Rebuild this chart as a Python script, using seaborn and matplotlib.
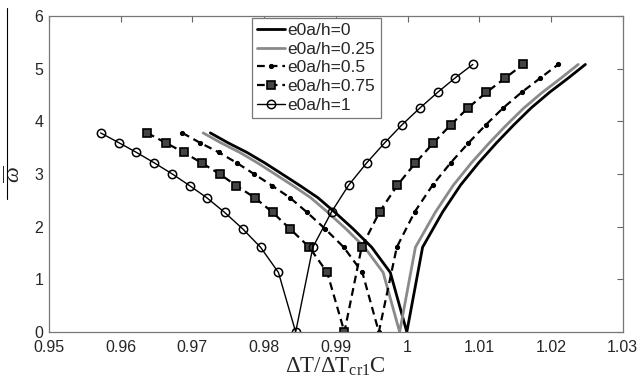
import numpy as np
import pandas as pd
import matplotlib
matplotlib.use("Agg")
import matplotlib.pyplot as plt
import seaborn as sns
from matplotlib.lines import Line2D

# ---- data ----
omega = [3.78, 3.59, 3.41, 3.21, 3.00, 2.78, 2.55, 2.27, 1.96, 1.61, 1.13, 0.0,
         1.61, 2.28, 2.79, 3.21, 3.59, 3.93, 4.25, 4.55, 4.82, 5.08]

x_e0 = [0.9725, 0.9750, 0.9776, 0.9801, 0.9825, 0.9850, 0.9875, 0.9899, 0.9924, 0.9950, 0.9976, 0.9999,
        1.0021, 1.0049, 1.0074, 1.0099, 1.0124, 1.0148, 1.0172, 1.0198, 1.0224, 1.0248]
x_e025 = [0.9715, 0.9740, 0.9766, 0.9791, 0.9815, 0.9840, 0.9865, 0.9889, 0.9914, 0.9940, 0.9966, 0.9989,
          1.0011, 1.0039, 1.0064, 1.0089, 1.0114, 1.0138, 1.0162, 1.0188, 1.0214, 1.0238]
x_e05 = [0.9686, 0.9711, 0.9737, 0.9762, 0.9786, 0.9811, 0.9836, 0.9860, 0.9885, 0.9911, 0.9937, 0.9960,
         0.9985, 1.0010, 1.0035, 1.0060, 1.0085, 1.0109, 1.0133, 1.0159, 1.0185, 1.0210]
x_e075 = [0.9637, 0.9663, 0.9688, 0.9713, 0.9738, 0.9761, 0.9787, 0.9812, 0.9836, 0.9863, 0.9888, 0.9912,
          0.9936, 0.9961, 0.9986, 1.0011, 1.0036, 1.0060, 1.0084, 1.0110, 1.0136, 1.0161]
x_e1 = [0.9572, 0.9598, 0.9622, 0.9647, 0.9672, 0.9696, 0.9720, 0.9745, 0.9770, 0.9795, 0.9820, 0.9844,
        0.9868, 0.9894, 0.9918, 0.9943, 0.9968, 0.9992, 1.0017, 1.0042, 1.0066, 1.0091]

labels = ["e0a/h=0", "e0a/h=0.25", "e0a/h=0.5", "e0a/h=0.75", "e0a/h=1"]
xticks = [0.95, 0.96, 0.97, 0.98, 0.99, 1.0, 1.01, 1.02, 1.03]
xticklabels = ["0.95", "0.96", "0.97", "0.98", "0.99", "1", "1.01", "1.02", "1.03"]
yticks = [0, 1, 2, 3, 4, 5, 6]

sns.set_style("white")
plt.rcParams['font.family'] = ['Liberation Sans', 'DejaVu Sans']
plt.rcParams['mathtext.fontset'] = 'custom'
plt.rcParams['mathtext.rm'] = 'Liberation Serif'
plt.rcParams['mathtext.it'] = 'Liberation Serif:italic'

fig = plt.figure(figsize=(6.41, 3.90), dpi=100)
ax = fig.add_axes([0.0764, 0.1487, 0.8950, 0.8103])

sns.lineplot(x=x_e0, y=omega, ax=ax, color="black", lw=2.0, label=labels[0], sort=False)
sns.lineplot(x=x_e025, y=omega, ax=ax, color="#8a8a8a", lw=2.0, label=labels[1], sort=False)
sns.lineplot(x=x_e05, y=omega, ax=ax, color="black", lw=1.6, linestyle=(0, (3.5, 2.2)),
             marker="o", markersize=3, markerfacecolor="black", markeredgecolor="black",
             label=labels[2], sort=False)
sns.lineplot(x=x_e075, y=omega, ax=ax, color="black", lw=1.6, linestyle=(0, (3.5, 2.2)),
             marker="s", markersize=6, markerfacecolor="#444444", markeredgecolor="black",
             markeredgewidth=1.2, label=labels[3], sort=False)
sns.lineplot(x=x_e1, y=omega, ax=ax, color="black", lw=1.0, linestyle="-",
             marker="o", markersize=6, markerfacecolor="none", markeredgecolor="black",
             markeredgewidth=1.1, label=labels[4], sort=False)

ax.set_xlim(0.95, 1.03)
ax.set_ylim(0, 6)
ax.set_xticks(xticks)
ax.set_xticklabels(xticklabels)
ax.set_yticks(yticks)
ax.tick_params(direction="in", length=4, width=0.8, color="#666666",
               top=True, right=True, labelsize=11.5)
ax.tick_params(axis="x", pad=6)
ax.tick_params(axis="y", pad=4)
for t in ax.get_yticklabels():
    t.set_verticalalignment("center_baseline")
for s in ax.spines.values():
    s.set_color("#777777")
    s.set_linewidth(0.9)

ax.set_xlabel(r"$\Delta\mathrm{T}/\Delta\mathrm{T}_{\mathrm{cr1}}\mathrm{C}$", fontsize=16.5,
              labelpad=0)
ax.set_ylabel(r"$\overline{\omega}$", fontsize=16)
ax.yaxis.set_label_coords(-0.042, 0.5)

fig.add_artist(Line2D([0.011, 0.011], [0.49, 0.98], color="black", lw=0.8,
                      transform=fig.transFigure))

leg = ax.legend(loc="upper left", bbox_to_anchor=(0.354, 0.994), fontsize=12.5,
                frameon=True, fancybox=False, framealpha=1, edgecolor="#777777",
                handlelength=1.6, handletextpad=0.15, borderpad=0.3, labelspacing=0.2,
                borderaxespad=0)
leg.get_frame().set_linewidth(0.9)

fig.savefig("out.png", dpi=100)
